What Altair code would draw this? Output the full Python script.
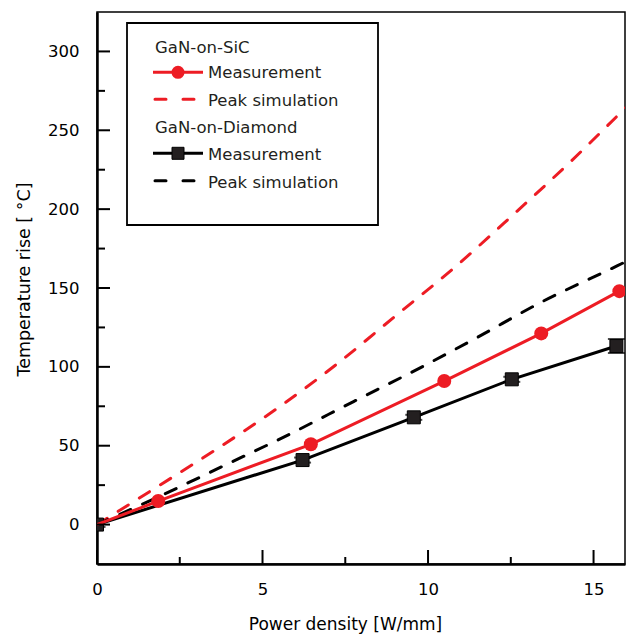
import altair as alt
import pandas as pd

# ---- data ----
sic_meas_p = [0, 1.85, 6.46, 10.49, 13.42, 15.78]
sic_meas_t = [0, 14.9, 50.9, 91.0, 121.2, 148.0]

sic_sim_p = [0, 1.9, 3.7, 5.6, 7.2, 9.0, 10.8, 12.6, 14.3, 16.0]
sic_sim_t = [0, 25, 49, 76, 101, 132, 163, 197, 230, 265]

dia_meas_p = [0, 6.21, 9.57, 12.53, 15.69]
dia_meas_t = [0, 40.9, 68.0, 92.1, 113.2]
dia_meas_err = [1.5, 1.6, 1.6, 1.6, 4.4]

dia_sim_p = [0, 2.0, 4.0, 5.46, 7.75, 10.0, 11.43, 13.42, 15.71, 16.0]
dia_sim_t = [0, 19, 39, 53.6, 78, 102, 118, 141, 164, 167]

ytick_major = [0, 50, 100, 150, 200, 250, 300]
ytick_minor = [25, 75, 125, 175, 225, 275]
xtick_major = [0, 5, 10, 15]
xtick_minor = [2.5, 7.5, 12.5]

legend_headers = ["GaN-on-SiC", "GaN-on-Diamond"]
legend_entries = ["Measurement", "Peak simulation"]

RED = "#ED1C24"
BLACK = "#000000"
FONT = "DejaVu Sans"

W, H = 528, 552

xscale = alt.Scale(domain=[0, 15.95], nice=False, zero=False)
yscale = alt.Scale(domain=[-25, 325], nice=False, zero=False)

xaxis = alt.Axis(values=xtick_major, ticks=False, tickSize=0, grid=False, labelFlush=False,
                 labelPadding=17, labelFontSize=16.5, labelFont=FONT, labelColor="black",
                 domainColor="black", domainWidth=2.5,
                 titleFont=FONT, titleFontSize=17, titleFontWeight="normal", titleColor="black",
                 titleX=248, titleY=65, titleBaseline="alphabetic", titleAlign="center")
yaxis = alt.Axis(values=ytick_major, ticks=False, tickSize=0, grid=False, labelFlush=False,
                 labelPadding=18, labelFontSize=16.5, labelFont=FONT, labelColor="black",
                 domainColor="black", domainWidth=2.5,
                 titleFont=FONT, titleFontSize=17.5, titleFontWeight="normal", titleColor="black",
                 titleX=-68, titleY=267, titleBaseline="alphabetic", titleAlign="center")

XT = "Power density [W/mm]"
YT = "Temperature rise [ °C]"


def X(f):
    return alt.X(f, type="quantitative", scale=xscale, axis=xaxis, title=XT)


def Y(f):
    return alt.Y(f, type="quantitative", scale=yscale, axis=yaxis, title=YT)


df_sic_meas = pd.DataFrame({"P": sic_meas_p, "T": sic_meas_t})
df_sic_sim = pd.DataFrame({"P": sic_sim_p, "T": sic_sim_t})
df_dia_meas = pd.DataFrame({"P": dia_meas_p, "T": dia_meas_t, "E": dia_meas_err})
df_dia_meas["lo"] = df_dia_meas["T"] - df_dia_meas["E"]
df_dia_meas["hi"] = df_dia_meas["T"] + df_dia_meas["E"]
df_dia_sim = pd.DataFrame({"P": dia_sim_p, "T": dia_sim_t})

layers = []

# simulation curves
layers.append(alt.Chart(df_sic_sim).mark_line(
    color=RED, strokeWidth=3, strokeDash=[12, 13], strokeCap="round",
    interpolate="monotone", clip=True).encode(x=X("P"), y=Y("T")))
layers.append(alt.Chart(df_dia_sim).mark_line(
    color=BLACK, strokeWidth=3, strokeDash=[12, 13], strokeCap="round",
    interpolate="monotone", clip=True).encode(x=X("P"), y=Y("T")))

# diamond measurement
dia = alt.Chart(df_dia_meas)
layers.append(dia.mark_line(color=BLACK, strokeWidth=3, clip=True).encode(x=X("P"), y=Y("T")))
layers.append(dia.mark_rule(color=BLACK, strokeWidth=2, clip=True).encode(x=X("P"), y=Y("lo"), y2="hi"))
layers.append(dia.mark_tick(color=BLACK, orient="horizontal", size=17, thickness=2, clip=True)
              .encode(x=X("P"), y=Y("lo")))
layers.append(dia.mark_tick(color=BLACK, orient="horizontal", size=17, thickness=2, clip=True)
              .encode(x=X("P"), y=Y("hi")))
layers.append(dia.mark_point(shape="square", size=169, filled=True, fill="#231f20",
                             stroke=BLACK, strokeWidth=1, opacity=1, clip=True)
              .encode(x=X("P"), y=Y("T")))

# SiC measurement
sic = alt.Chart(df_sic_meas)
layers.append(sic.mark_line(color=RED, strokeWidth=3, clip=True).encode(x=X("P"), y=Y("T")))
layers.append(sic.mark_point(shape="circle", size=196, filled=True, color=RED, opacity=1, clip=True)
              .transform_filter("datum.P > 0").encode(x=X("P"), y=Y("T")))

# inward ticks
layers.append(alt.Chart(pd.DataFrame({"T": ytick_major})).mark_rule(color=BLACK, strokeWidth=2)
              .encode(y=Y("T"), x=alt.value(0), x2=alt.value(13)))
layers.append(alt.Chart(pd.DataFrame({"T": ytick_minor})).mark_rule(color=BLACK, strokeWidth=2)
              .encode(y=Y("T"), x=alt.value(0), x2=alt.value(8)))
layers.append(alt.Chart(pd.DataFrame({"P": xtick_major})).mark_rule(color=BLACK, strokeWidth=2)
              .encode(x=X("P"), y=alt.value(H), y2=alt.value(H - 14)))
layers.append(alt.Chart(pd.DataFrame({"P": xtick_minor})).mark_rule(color=BLACK, strokeWidth=2)
              .encode(x=X("P"), y=alt.value(H), y2=alt.value(H - 7)))

# legend
one = pd.DataFrame({"a": [0]})
layers.append(alt.Chart(one).mark_rect(fill="white", stroke=BLACK, strokeWidth=1.8)
              .encode(x=alt.value(30), x2=alt.value(281), y=alt.value(11), y2=alt.value(213)))

header_y = [40.7, 121.3]
entry_y = [66.3, 93.7, 148.0, 176.3]
entry_line_y = [60.3, 87.3, 141.3, 168.7]
entry_colors = [RED, RED, BLACK, BLACK]

for i, lab in enumerate(legend_headers):
    layers.append(alt.Chart(pd.DataFrame({"lab": [lab]})).mark_text(
        align="left", baseline="alphabetic", font=FONT, fontSize=16.5, color="#231f20")
        .encode(x=alt.value(58), y=alt.value(header_y[i]), text="lab:N"))

for k in range(4):
    lab = legend_entries[k % 2]
    layers.append(alt.Chart(pd.DataFrame({"lab": [lab]})).mark_text(
        align="left", baseline="alphabetic", font=FONT, fontSize=16.5, color="#231f20")
        .encode(x=alt.value(111), y=alt.value(entry_y[k]), text="lab:N"))
    if k % 2 == 0:
        layers.append(alt.Chart(one).mark_rule(color=entry_colors[k], strokeWidth=3)
                      .encode(x=alt.value(56), x2=alt.value(106), y=alt.value(entry_line_y[k])))
    else:
        layers.append(alt.Chart(one).mark_rule(color=entry_colors[k], strokeWidth=3,
                                              strokeDash=[11, 17], strokeCap="round")
                      .encode(x=alt.value(58), x2=alt.value(101), y=alt.value(entry_line_y[k])))

layers.append(alt.Chart(one).mark_point(shape="circle", size=169, filled=True, color=RED, opacity=1)
              .encode(x=alt.value(81), y=alt.value(entry_line_y[0])))
layers.append(alt.Chart(one).mark_point(shape="square", size=144, filled=True, fill="#231f20",
                                        stroke=BLACK, strokeWidth=1, opacity=1)
              .encode(x=alt.value(81), y=alt.value(entry_line_y[2])))

chart = alt.layer(*layers).properties(
    width=W, height=H,
    autosize=alt.AutoSizeParams(type="none"),
    padding={"left": 89, "top": 4, "right": 1, "bottom": 80},
    background="white",
).configure_view(stroke=BLACK, strokeWidth=1.5)

chart.save("out.html", embed_options={"renderer": "svg", "actions": False})
